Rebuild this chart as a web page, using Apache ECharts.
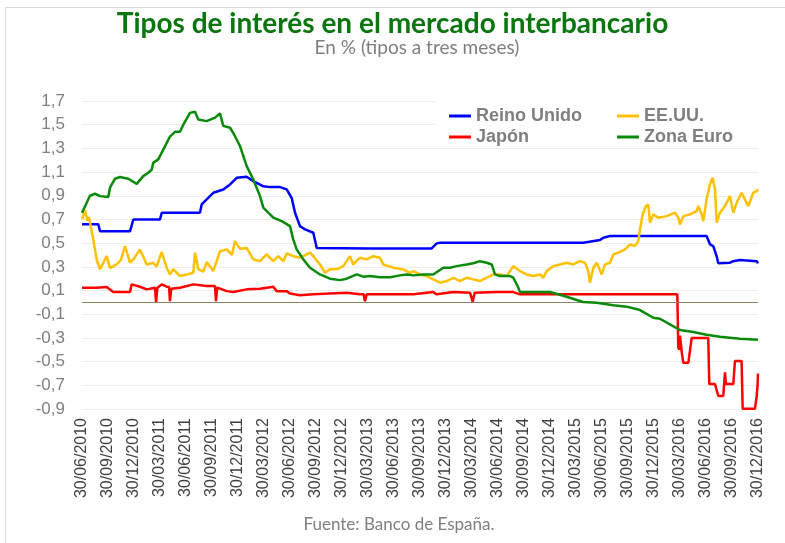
<!DOCTYPE html>
<html>
<head>
<meta charset="utf-8">
<script src="https://cdn.jsdelivr.net/npm/echarts@6/dist/echarts.min.js"></script>
<style>html,body{margin:0;padding:0;background:#fff;}#c{width:785px;height:543px;}</style>
</head>
<body>
<div id="c"></div>
<script>
// x = months since 30/06/2010
const tickLabels = ['30/06/2010','30/09/2010','30/12/2010','30/03/2011','30/06/2011','30/09/2011','30/12/2011','30/03/2012','30/06/2012','30/09/2012','30/12/2012','30/03/2013','30/06/2013','30/09/2013','30/12/2013','30/03/2014','30/06/2014','30/09/2014','30/12/2014','30/03/2015','30/06/2015','30/09/2015','30/12/2015','30/03/2016','30/06/2016','30/09/2016','30/12/2016'];
const seriesNames = ['Reino Unido','EE.UU.','Japón','Zona Euro'];

const reinoUnido = [[0,0.66],[1.88,0.66],[2.08,0.60],[5.54,0.60],[5.92,0.70],[9.0,0.70],[9.2,0.757],[13.61,0.757],[13.81,0.827],[14.39,0.87],[15.15,0.925],[16.3,0.953],[17.08,0.996],[17.85,1.052],[19.0,1.06],[19.76,1.024],[20.92,0.98],[21.69,0.973],[22.85,0.973],[23.62,0.954],[24.2,0.88],[24.58,0.757],[25.15,0.644],[25.73,0.616],[26.69,0.588],[27.08,0.46],[33.0,0.455],[40.35,0.455],[40.93,0.498],[41.31,0.504],[57.84,0.504],[58.04,0.517],[59.77,0.526],[60.15,0.546],[60.92,0.56],[72.07,0.56],[72.46,0.49],[72.84,0.475],[73.23,0.39],[73.42,0.33],[74.77,0.335],[75.15,0.348],[75.92,0.357],[77.85,0.348],[78,0.33]];

const eeuu = [[0,0.70],[0.35,0.78],[0.61,0.69],[0.8,0.72],[1.3,0.53],[1.7,0.36],[2.08,0.28],[2.85,0.39],[3.23,0.29],[4.0,0.32],[4.5,0.36],[4.96,0.475],[5.54,0.335],[6.0,0.37],[6.69,0.447],[7.47,0.32],[8.23,0.335],[8.6,0.30],[9.2,0.425],[9.77,0.293],[10.15,0.236],[10.53,0.28],[11.31,0.222],[12.08,0.236],[12.84,0.25],[13.04,0.42],[13.42,0.28],[14.0,0.26],[14.39,0.34],[15.15,0.264],[15.92,0.433],[16.7,0.447],[17.3,0.40],[17.65,0.517],[18.23,0.453],[19.0,0.46],[19.76,0.363],[20.54,0.348],[21.31,0.405],[22.07,0.348],[22.65,0.39],[23.23,0.348],[23.62,0.413],[24.38,0.39],[25.15,0.377],[25.93,0.405],[26.31,0.42],[26.69,0.39],[27.46,0.32],[28.04,0.25],[28.61,0.28],[29.39,0.28],[30.15,0.306],[30.92,0.39],[31.30,0.32],[32.08,0.377],[32.85,0.363],[33.61,0.39],[34.38,0.377],[34.76,0.32],[35.92,0.293],[37.07,0.278],[37.84,0.25],[38.23,0.264],[39.0,0.236],[39.77,0.222],[40.53,0.194],[41.31,0.166],[42.08,0.18],[42.84,0.208],[43.61,0.18],[44.39,0.208],[45.15,0.194],[45.92,0.18],[46.70,0.208],[47.46,0.236],[48.23,0.236],[49.0,0.222],[49.77,0.306],[50.54,0.264],[51.31,0.236],[52.08,0.222],[52.85,0.236],[53.23,0.208],[53.62,0.264],[54.38,0.306],[55.15,0.32],[55.93,0.335],[56.69,0.32],[57.46,0.348],[58.04,0.335],[58.42,0.264],[58.61,0.166],[58.81,0.18],[59.0,0.293],[59.39,0.335],[59.96,0.236],[60.34,0.32],[60.92,0.335],[61.30,0.405],[61.88,0.42],[62.65,0.447],[63.23,0.49],[63.80,0.475],[64.19,0.517],[64.38,0.616],[64.69,0.743],[65.07,0.813],[65.34,0.827],[65.54,0.673],[65.92,0.743],[66.49,0.715],[67.46,0.728],[68.42,0.757],[68.80,0.715],[69.0,0.658],[69.38,0.728],[70.15,0.743],[70.92,0.77],[71.11,0.813],[71.50,0.743],[71.69,0.686],[72.07,0.87],[72.46,0.996],[72.77,1.052],[73.04,0.954],[73.23,0.673],[73.61,0.757],[74.19,0.813],[74.77,0.897],[75.15,0.757],[75.54,0.841],[76.11,0.926],[76.49,0.87],[76.88,0.813],[77.46,0.926],[77.85,0.94],[78,0.954]];

const japon = [[0,0.124],[1.7,0.124],[2.85,0.13],[3.61,0.087],[5.54,0.087],[5.73,0.152],[6.69,0.132],[7.47,0.11],[8.42,0.124],[8.55,0.0],[8.7,0.124],[9.2,0.152],[9.77,0.132],[10.05,0.13],[10.15,0.01],[10.3,0.116],[11.31,0.124],[12.84,0.152],[14.39,0.138],[15.35,0.138],[15.46,0.01],[15.6,0.124],[16.7,0.095],[17.46,0.087],[19.0,0.11],[20.54,0.116],[22.07,0.132],[22.46,0.095],[23.62,0.095],[24.0,0.075],[25.15,0.06],[26.69,0.068],[30.54,0.082],[32.08,0.068],[32.5,0.068],[32.65,0.01],[32.85,0.068],[38.23,0.068],[40.53,0.087],[40.93,0.068],[42.84,0.087],[44.77,0.082],[45.0,0.082],[45.08,0.003],[45.3,0.082],[47.85,0.087],[49.77,0.087],[50.54,0.068],[68.69,0.068],[68.8,-0.38],[68.92,-0.40],[69.0,-0.28],[69.2,-0.42],[69.38,-0.51],[69.96,-0.51],[70.35,-0.30],[72.26,-0.30],[72.38,-0.69],[73.04,-0.69],[73.42,-0.79],[73.99,-0.79],[74.19,-0.59],[74.30,-0.69],[75.15,-0.69],[75.34,-0.495],[76.11,-0.495],[76.23,-0.897],[77.65,-0.897],[77.85,-0.79],[77.95,-0.70],[78,-0.6]];

const zonaEuro = [[0,0.757],[0.92,0.90],[1.5,0.917],[2.08,0.897],[3.03,0.89],[3.23,0.968],[3.81,1.044],[4.38,1.058],[5.34,1.044],[6.31,1.0],[7.07,1.066],[7.65,1.094],[8.04,1.12],[8.23,1.18],[8.80,1.207],[9.38,1.29],[10.15,1.40],[10.73,1.44],[11.31,1.44],[11.69,1.50],[12.46,1.60],[13.04,1.61],[13.42,1.544],[14.39,1.53],[15.35,1.56],[15.92,1.595],[16.30,1.49],[17.08,1.474],[17.46,1.43],[18.23,1.32],[19.0,1.15],[19.76,1.038],[20.54,0.897],[20.92,0.80],[22.07,0.715],[23.04,0.686],[24.0,0.644],[24.38,0.53],[24.77,0.447],[25.53,0.363],[26.31,0.293],[27.46,0.236],[28.61,0.20],[29.77,0.188],[30.54,0.20],[31.70,0.236],[32.46,0.217],[33.23,0.222],[34.38,0.213],[35.54,0.213],[36.69,0.228],[37.46,0.236],[38.23,0.228],[39.38,0.236],[40.53,0.236],[41.69,0.293],[42.46,0.293],[43.23,0.306],[44.39,0.32],[45.15,0.33],[45.92,0.348],[46.70,0.335],[47.27,0.32],[47.65,0.236],[48.23,0.222],[49.38,0.222],[49.77,0.208],[50.35,0.124],[50.54,0.087],[54.0,0.087],[55.15,0.065],[55.93,0.048],[57.08,0.02],[57.84,0.003],[59.39,-0.003],[61.30,-0.025],[62.85,-0.036],[64.38,-0.065],[65.92,-0.13],[66.69,-0.138],[67.84,-0.186],[69.0,-0.233],[70.53,-0.25],[72.07,-0.273],[73.61,-0.29],[75.92,-0.306],[78,-0.315]];

const colors = ['#0000ff','#ffc000','#ff0000','#0a8a0a'];
const dataSets = [reinoUnido, eeuu, japon, zonaEuro];

const chart = echarts.init(document.getElementById('c'), null, {renderer:'canvas'});
const series = seriesNames.map((n,i)=>({
  name:n, type:'line', data:dataSets[i], showSymbol:false, symbol:'none',
  lineStyle:{color:colors[i], width:2.5}, itemStyle:{color:colors[i]}, z:2+i
}));
series[0].markLine = {silent:true, symbol:['none','none'], label:{show:false},
  lineStyle:{color:'#8c8363', width:1, type:'solid'}, data:[{yAxis:0}]};

const legendText = {fontFamily:'Liberation Sans', fontWeight:'bold', fontSize:18, color:'#7f7f7f'};
chart.setOption({
  animation:false,
  backgroundColor:'#fff',
  title:{text:'Tipos de interés en el mercado interbancario',
    left:'center', top:5,
    textStyle:{fontFamily:'Lato', fontWeight:'bold', fontSize:28, color:'#0b7510'}},
  legend:[
    {data:['Reino Unido','Japón'], orient:'vertical', left:444, top:102, icon:'rect', itemWidth:22, itemHeight:3, itemGap:3,
     textStyle:legendText},
    {data:['EE.UU.','Zona Euro'], orient:'vertical', left:612, top:102, icon:'rect', itemWidth:22, itemHeight:3, itemGap:3,
     textStyle:legendText}
  ],
  grid:{left:82, right:27, top:101, bottom:134},
  xAxis:{type:'value', min:0, max:78, interval:3,
    axisLine:{show:false}, axisTick:{show:false}, splitLine:{show:false},
    axisLabel:{rotate:90, margin:9, fontFamily:'Liberation Sans', fontSize:16, color:'#404040', showMinLabel:true, showMaxLabel:true,
      formatter:v=>tickLabels[Math.round(v/3)]||''}},
  yAxis:{type:'value', min:-0.9, max:1.7, interval:0.2,
    axisLine:{show:false}, axisTick:{show:false},
    splitLine:{lineStyle:{color:'#eeeee6', width:1}},
    axisLabel:{margin:17, fontFamily:'Liberation Sans', fontSize:17, color:'#7f7f7f',
      formatter:v=>v.toFixed(1).replace('.',',')}},
  graphic:[
    {type:'rect', z:1, shape:{x:435, y:95, width:325, height:50}, style:{fill:'#ffffff'}},
    {type:'rect', z:0, shape:{x:5.5, y:7.5, width:800, height:600}, style:{fill:'none', stroke:'#d9d9d9', lineWidth:1}},
    {type:'text', x:417, y:48, style:{text:'En % (tipos a tres meses)', fontFamily:'Lato', fontSize:19, fill:'#7f7f7f', textAlign:'center', textVerticalAlign:'middle'}},
    {type:'text', x:399, y:525, style:{text:'Fuente: Banco de España.', fontFamily:'Lato', fontSize:17, fill:'#7f7f7f', textAlign:'center', textVerticalAlign:'middle'}}
  ],
  series:series
});
</script>
</body>
</html>
